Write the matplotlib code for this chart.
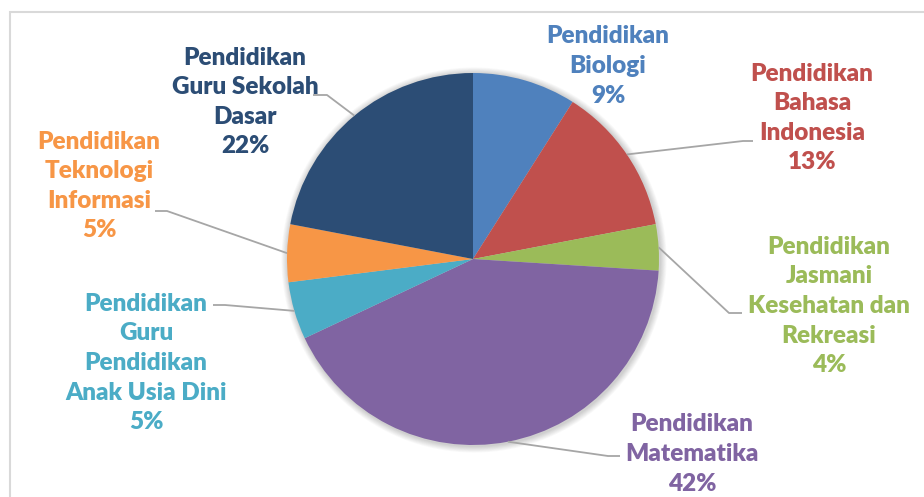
import numpy as np
import matplotlib.pyplot as plt
from matplotlib.patches import Rectangle, Circle

# slice data, clockwise from 12 o'clock
programs = ["Pendidikan\nBiologi",
            "Pendidikan\nBahasa\nIndonesia",
            "Pendidikan\nJasmani\nKesehatan dan\nRekreasi",
            "Pendidikan\nMatematika",
            "Pendidikan\nGuru\nPendidikan\nAnak Usia Dini",
            "Pendidikan\nTeknologi\nInformasi",
            "Pendidikan\nGuru Sekolah\nDasar"]
shares = [9, 13, 4, 42, 5, 5, 22]
colors = ["#4F81BD", "#C0504D", "#9BBB59", "#8064A2",
          "#4BACC6", "#F79646", "#2C4D75"]

W, H = 924, 497
fig = plt.figure(figsize=(W / 100, H / 100), dpi=100)
ax = fig.add_axes([0, 0, 1, 1])

# chart frame (cut off at right/bottom in the reference)
ax.add_patch(Rectangle((10, -20), W + 40, H - 12 + 20, fill=False,
                       edgecolor="#D9D9D9", linewidth=1.5))

cx, cy, r = 473, H - 259, 186

# soft shadow
for k in range(8):
    ax.add_patch(Circle((cx + 1, cy - 1), r + 1 + k * 0.8, color="black",
                        alpha=0.025, linewidth=0, zorder=1))

ax.pie(shares, colors=colors, startangle=90, counterclock=False,
       center=(cx, cy), radius=r, frame=True,
       wedgeprops=dict(linewidth=0, zorder=2))
ax.set_xlim(0, W)
ax.set_ylim(0, H)
ax.set_aspect('equal')
ax.axis('off')

# label anchor (text centre) and leader elbow, in pixel coords from top
label_pos = [(608, 66), (812, 118), (829, 306), (692, 454),
             (146, 363), (99, 186), (245, 102)]
elbows = [None, ((743, 141), (753, 141)), ((729, 313), (742, 313)),
          ((608, 456), (620, 456)), ((225, 305), (213, 305)),
          ((167, 211), (155, 211)), ((327, 95), (313, 95))]

font = dict(family="Lato", weight="heavy", fontsize=17.5)
cum = np.cumsum([0] + shares)
for i, (name, val) in enumerate(zip(programs, shares)):
    lx, ly = label_pos[i]
    ax.text(lx, H - ly, f"{name}\n{val}%", ha="center", va="center",
            color=colors[i], linespacing=1.42, zorder=5, **font)
    if elbows[i] is None:
        continue
    mid = np.deg2rad((cum[i] + val / 2) / 100 * 360)
    sx, sy = cx + r * np.sin(mid), cy + r * np.cos(mid)
    (ex, ey), (tx, ty) = elbows[i]
    ax.plot([sx, ex, tx], [sy, H - ey, H - ty], color="#A6A6A6",
            linewidth=1.3, solid_capstyle="butt", zorder=4)

fig.savefig("out.png", dpi=100)
